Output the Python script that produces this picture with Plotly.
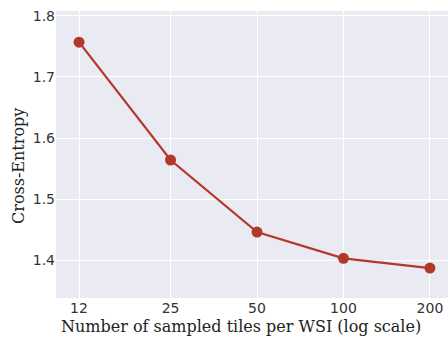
import plotly.graph_objects as go
import numpy as np

tiles = [12, 25, 50, 100, 200]
cross_entropy = [1.757, 1.564, 1.446, 1.403, 1.387]
tick_labels = ["12", "25", "50", "100", "200"]
y_ticks = [1.4, 1.5, 1.6, 1.7, 1.8]
y_tick_labels = ["1.4", "1.5", "1.6", "1.7", "1.8"]

color = "#B3382C"

fig = go.Figure()
fig.add_trace(go.Scatter(
    x=tiles, y=cross_entropy, mode="lines+markers",
    line=dict(color=color, width=2.2),
    marker=dict(color=color, size=11),
    showlegend=False,
))

fig.update_layout(
    width=448, height=337,
    margin=dict(l=56, r=0, t=11, b=39, autoexpand=False),
    paper_bgcolor="white",
    plot_bgcolor="#EAEAF2",
    xaxis=dict(
        type="log",
        range=[0.999, 2.364],
        tickvals=tiles, ticktext=tick_labels,
        gridcolor="white", gridwidth=1, showline=False, zeroline=False,
        ticks="", automargin=False, ticklabeloverflow="allow",
        tickfont=dict(family="DejaVu Sans", size=14, color="#333333"),
    ),
    yaxis=dict(
        range=[1.338, 1.808],
        tickvals=y_ticks, ticktext=y_tick_labels,
        gridcolor="white", gridwidth=1, showline=False, zeroline=False,
        ticks="", automargin=False, ticklabeloverflow="allow",
        tickfont=dict(family="DejaVu Sans", size=14, color="#333333"),
    ),
    annotations=[
        dict(text="Number of sampled tiles per WSI (log scale)",
             xref="paper", yref="paper", x=(241 - 56) / 392, y=-(326 - 298) / 287,
             xanchor="center", yanchor="middle", showarrow=False,
             font=dict(family="DejaVu Serif", size=16, color="#222222")),
        dict(text="Cross-Entropy", textangle=-90,
             xref="paper", yref="paper", x=-(56 - 18) / 392, y=(298 - 166) / 287,
             xanchor="center", yanchor="middle", showarrow=False,
             font=dict(family="DejaVu Serif", size=16, color="#222222")),
    ],
)

fig.write_html(
    "out.html",
    config={"displayModeBar": False},
    post_script="document.body.style.margin='0';document.body.style.overflow='hidden';",
)
